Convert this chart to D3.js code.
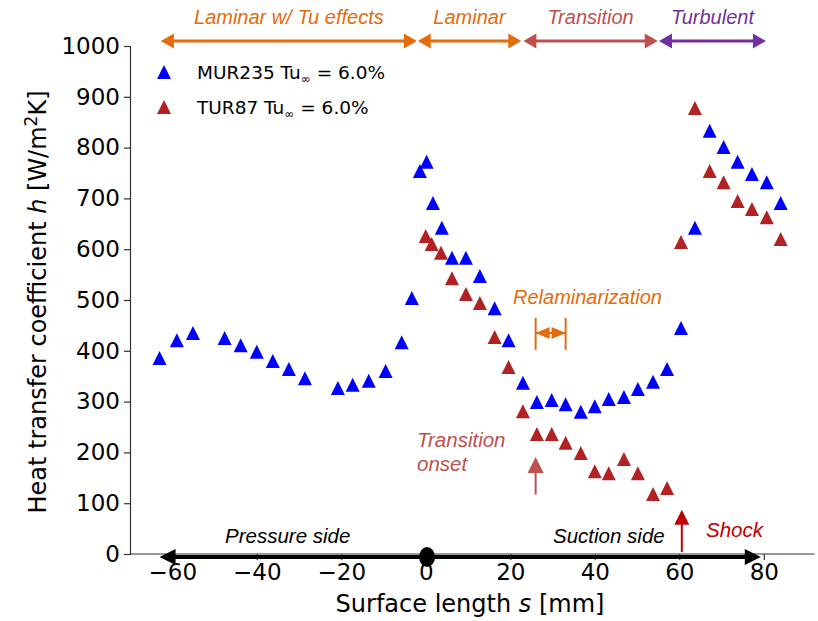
<!DOCTYPE html>
<html>
<head>
<meta charset="utf-8">
<script src="https://cdn.jsdelivr.net/npm/d3@7"></script>
<style>
  body { margin: 0; background: #fff; }
  text { font-family: "DejaVu Sans", sans-serif; }
  .ann { font-family: "Liberation Sans", Arial, sans-serif; font-style: italic; }
</style>
</head>
<body>
<div id="chart"></div>
<script>
// MUR235 Tu = 6.0% (blue)
var murS = [-63.0, -58.9, -55.1, -47.6, -43.8, -40.0, -36.2, -32.4, -28.6, -20.8, -17.3, -13.5, -9.5, -5.7, -3.3,
            -1.4, 0.2, 1.7, 3.8, 6.2, 9.5, 12.8, 16.3, 19.6, 23.0, 26.3, 29.8, 33.1, 36.7, 40.0, 43.3, 46.9,
            50.2, 53.8, 57.1, 60.4, 63.7, 67.2, 70.5, 73.8, 77.2, 80.7, 84.0];
var murH = [386, 421, 435, 425, 411, 398, 380, 364, 346, 327, 333, 341, 360, 417, 504,
            754, 772, 691, 642, 583, 583, 547, 484, 421, 337, 299, 303, 295, 280, 291, 305, 309,
            325, 339, 364, 445, 642, 833, 801, 772, 748, 732, 691];
// TUR87 Tu = 6.0% (red)
var turS = [0.0, 1.4, 3.6, 6.2, 9.5, 12.8, 16.3, 19.6, 23.0, 26.3, 29.8, 33.1, 36.7, 40.0, 43.3, 46.9,
            50.2, 53.8, 57.1, 60.4, 63.7, 67.2, 70.5, 73.8, 77.2, 80.7, 84.0];
var turH = [626, 610, 593, 543, 512, 494, 427, 368, 281, 236, 236, 219, 199, 163, 159, 187,
            159, 118, 130, 614, 878, 754, 732, 695, 679, 663, 620];

var xTicks = [-60, -40, -20, 0, 20, 40, 60, 80];
var yTicks = [0, 100, 200, 300, 400, 500, 600, 700, 800, 900, 1000];

// regime bands along the top (start, end, label)
var regimes = [
  {a: -62.7, b: -2.1, label: "Laminar w/ Tu effects", color: "#E46C0A"},
  {a: -1.9, b: 22.6, label: "Laminar", color: "#E46C0A"},
  {a: 23.1, b: 54.9, label: "Transition", color: "#C0504D"},
  {a: 55.2, b: 80.5, label: "Turbulent", color: "#7030A0"}
];

var W = 818, H = 621;
var svg = d3.select('#chart').append('svg')
    .attr('width', W)
    .attr('height', H);

var x = d3.scaleLinear().domain([-70, 92]).range([130, 814.5]);
var y = d3.scaleLinear().domain([0, 1000]).range([554, 46]);

// axes
var xAxis = svg.append('g')
    .attr('transform', 'translate(0,' + y(0) + ')')
    .call(d3.axisBottom(x).tickValues(xTicks).tickSize(6).tickPadding(4)
      .tickFormat(function (d) { return d < 0 ? '\u2212' + Math.abs(d) : d; }));
var yAxis = svg.append('g')
    .attr('transform', 'translate(' + x(-70) + ',0)')
    .call(d3.axisLeft(y).tickValues(yTicks).tickSize(6).tickPadding(4)
      .tickFormat(d3.format('d')));
[xAxis, yAxis].forEach(function (g) {
  g.selectAll('path').attr('stroke', '#333').attr('stroke-width', 1.2);
  g.selectAll('line').attr('stroke', '#333').attr('stroke-width', 1.2);
  g.selectAll('text').attr('font-size', 23).attr('fill', '#000')
    .attr('font-family', '"DejaVu Sans", sans-serif');
});
xAxis.select('.domain').attr('d', 'M' + x(-70) + ',0H' + x(92));

// axis titles
svg.append('text')
    .attr('x', 470).attr('y', 612)
    .attr('text-anchor', 'middle')
    .attr('font-size', 24)
    .html('Surface length <tspan font-style="italic">s</tspan> [mm]');
svg.append('text')
    .attr('transform', 'translate(46,302) rotate(-90)')
    .attr('text-anchor', 'middle')
    .attr('font-size', 24)
    .html('Heat transfer coefficient <tspan font-style="italic">h</tspan> [W/m<tspan dy="-9" font-size="17">2</tspan><tspan dy="9">K]</tspan>');

// triangle marker
function triPath(cx, cy, s) {
  return 'M' + cx + ',' + (cy - s) + 'L' + (cx + s) + ',' + (cy + s) + 'L' + (cx - s) + ',' + (cy + s) + 'Z';
}

// bottom pressure/suction arrow
var by = 557;
svg.append('line')
    .attr('x1', x(-60.5)).attr('x2', x(77))
    .attr('y1', by).attr('y2', by)
    .attr('stroke', '#000').attr('stroke-width', 4);
svg.append('path')
    .attr('d', 'M' + x(-63) + ',' + by + 'l16,-8v16z')
    .attr('fill', '#000');
svg.append('path')
    .attr('d', 'M' + x(79.3) + ',' + by + 'l-16,-8v16z')
    .attr('fill', '#000');
svg.append('ellipse')
    .attr('cx', x(0.3)).attr('cy', by)
    .attr('rx', 8).attr('ry', 10)
    .attr('fill', '#000');
svg.append('text').attr('class', 'ann')
    .attr('x', 225).attr('y', 543).attr('font-size', 20.5)
    .text('Pressure side');
svg.append('text').attr('class', 'ann')
    .attr('x', 553).attr('y', 543).attr('font-size', 20.5)
    .text('Suction side');

// data points
svg.append('g').selectAll('path')
    .data(murS.map(function (s, i) { return [s, murH[i]]; }))
    .join('path')
    .attr('d', function (d) { return triPath(x(d[0]), y(d[1]), 7); })
    .attr('fill', '#0000FF');
svg.append('g').selectAll('path')
    .data(turS.map(function (s, i) { return [s, turH[i]]; }))
    .join('path')
    .attr('d', function (d) { return triPath(x(d[0]), y(d[1]), 7); })
    .attr('fill', '#B22222');

// regime arrows on top
var ty = 41;
regimes.forEach(function (r) {
  var x0 = x(r.a), x1 = x(r.b);
  svg.append('line')
      .attr('x1', x0 + 10).attr('x2', x1 - 10)
      .attr('y1', ty).attr('y2', ty)
      .attr('stroke', r.color).attr('stroke-width', 3);
  svg.append('path').attr('d', 'M' + x0 + ',' + ty + 'l13,-7.5v15z').attr('fill', r.color);
  svg.append('path').attr('d', 'M' + x1 + ',' + ty + 'l-13,-7.5v15z').attr('fill', r.color);
  svg.append('text').attr('class', 'ann')
      .attr('x', (x0 + x1) / 2).attr('y', 24)
      .attr('text-anchor', 'middle')
      .attr('font-size', 20)
      .attr('fill', r.color)
      .text(r.label);
});

// relaminarization
var orange = '#E46C0A';
svg.append('text').attr('class', 'ann')
    .attr('x', 513).attr('y', 304).attr('font-size', 20)
    .attr('fill', orange)
    .text('Relaminarization');
[26.0, 33.1].forEach(function (s) {
  svg.append('line')
      .attr('x1', x(s)).attr('x2', x(s))
      .attr('y1', y(465)).attr('y2', y(402))
      .attr('stroke', orange).attr('stroke-width', 2);
});
var rm = (x(26.0) + x(33.1)) / 2, ry = y(435);
svg.append('line').attr('x1', x(26.0)).attr('x2', x(33.1)).attr('y1', ry).attr('y2', ry)
    .attr('stroke', orange).attr('stroke-width', 2);
svg.append('path').attr('d', 'M' + x(26.0) + ',' + ry + 'L' + (rm - 1) + ',' + (ry - 6) + 'V' + (ry + 6) + 'Z').attr('fill', orange);
svg.append('path').attr('d', 'M' + x(33.1) + ',' + ry + 'L' + (rm + 1) + ',' + (ry - 6) + 'V' + (ry + 6) + 'Z').attr('fill', orange);

// transition onset
var tcol = '#C0504D';
svg.append('text').attr('class', 'ann')
    .attr('x', 417).attr('y', 447).attr('font-size', 20.5).attr('fill', tcol)
    .text('Transition');
svg.append('text').attr('class', 'ann')
    .attr('x', 417).attr('y', 471).attr('font-size', 20.5).attr('fill', tcol)
    .text('onset');
svg.append('line')
    .attr('x1', x(26.0)).attr('x2', x(26.0))
    .attr('y1', y(117)).attr('y2', y(165))
    .attr('stroke', tcol).attr('stroke-width', 2);
svg.append('path')
    .attr('d', 'M' + x(26.0) + ',' + y(191) + 'l8,16h-16z')
    .attr('fill', tcol);

// shock
var scol = '#C00000';
svg.append('text').attr('class', 'ann')
    .attr('x', 706).attr('y', 537).attr('font-size', 20.5).attr('fill', scol)
    .text('Shock');
svg.append('line')
    .attr('x1', x(60.6)).attr('x2', x(60.6))
    .attr('y1', y(4)).attr('y2', y(60))
    .attr('stroke', scol).attr('stroke-width', 2);
svg.append('path')
    .attr('d', 'M' + x(60.6) + ',' + y(87) + 'l7.5,15h-15z')
    .attr('fill', scol);

// legend
var legend = [
  {label: 'MUR235', color: '#0000FF', y: 72},
  {label: 'TUR87', color: '#B22222', y: 107}
];
legend.forEach(function (l) {
  svg.append('path').attr('d', triPath(164, l.y, 7)).attr('fill', l.color);
  svg.append('text')
      .attr('x', 197).attr('y', l.y + 7)
      .attr('font-size', 18.5)
      .html(l.label + ' Tu<tspan dy="4" font-size="12">\u221E</tspan><tspan dy="-4"> = 6.0%</tspan>');
});
</script>
</body>
</html>
